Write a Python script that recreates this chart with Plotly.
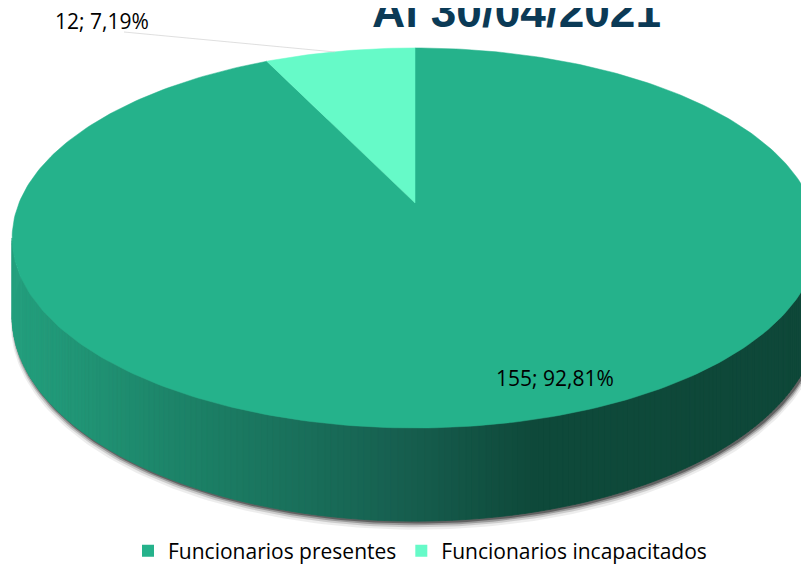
import numpy as np
import plotly.graph_objects as go

# ---------------- data ----------------
categories = ["Funcionarios presentes", "Funcionarios incapacitados"]
values = [155, 12]
title_text = "Al 30/04/2021"

# ---------------- style ----------------
slice_colors = ["#25b28b", "#66fac8"]
side_stops_x = [0, 200, 400, 530, 809]
side_stops_rgb = [(36, 163, 128), (28, 128, 102), (23, 96, 80), (15, 74, 59), (14, 72, 57)]

W, H = 809, 566
OFF = 8                     # page body margin compensation
CX, CY = 415.0, 203.0      # apex of the pie (page pixels)
RX = 396.0                  # horizontal radius
B = 183.6                   # vertical radius factor
C = 0.184                   # perspective factor
DEPTH = 76.0                # thickness of the pie


def proj(theta_deg, h=0.0, rx=RX):
    t = np.radians(np.asarray(theta_deg, dtype=float))
    X, Z = np.cos(t), np.sin(t)
    w = 1 + C * Z
    return CX + rx * X / w, CY - B * Z / w + h / w


def side_color(x):
    r = np.interp(x, side_stops_x, [c[0] for c in side_stops_rgb])
    g = np.interp(x, side_stops_x, [c[1] for c in side_stops_rgb])
    b = np.interp(x, side_stops_x, [c[2] for c in side_stops_rgb])
    return f"rgb({int(r)},{int(g)},{int(b)})"


total = sum(values)
ranges = []
start = 90.0
for v in values:
    sweep = 360.0 * v / total
    ranges.append((start - sweep, start))
    start -= sweep

fig = go.Figure()

# shadow under the pie
full = np.linspace(0, 360, 361)
for k, op in [(7, 0.07), (5, 0.14), (3.4, 0.24), (2.0, 0.36)]:
    sx, sy = proj(full, DEPTH + k, RX + k * 0.4)
    fig.add_trace(go.Scatter(x=sx + 1.5, y=sy, mode="lines", fill="toself",
                             line=dict(width=0), fillcolor=f"rgba(0,0,0,{op})",
                             hoverinfo="skip", showlegend=False))

# visible side (front) of each slice
vis_lo = 180 + np.degrees(np.arcsin(C))
vis_hi = 360 - np.degrees(np.arcsin(C))
for i, (a1, a0) in enumerate(ranges):
    for k in (-360, 0, 360):
        lo = max(a1, vis_lo + k)
        hi = min(a0, vis_hi + k)
        if hi <= lo:
            continue
        th = np.linspace(lo, hi, int((hi - lo) / 0.8) + 2)
        for j in range(len(th) - 1):
            t0, t1 = th[j], th[j + 1]
            x0, y0 = proj(t0)
            x1, y1 = proj(t1)
            x2, y2 = proj(t1, DEPTH)
            x3, y3 = proj(t0, DEPTH)
            col = side_color((x0 + x1) / 2)
            fig.add_trace(go.Scatter(x=[x0, x1, x2, x3, x0], y=[y0, y1, y2, y3, y0],
                                     mode="lines", fill="toself", fillcolor=col,
                                     line=dict(width=0.8, color=col),
                                     hoverinfo="skip", showlegend=False))

# top faces
for i, (a1, a0) in enumerate(ranges):
    th = np.linspace(a0, a1, int(abs(a0 - a1)) + 2)
    px, py = proj(th)
    fig.add_trace(go.Scatter(x=[CX] + list(px) + [CX], y=[CY] + list(py) + [CY],
                             mode="lines", fill="toself", fillcolor=slice_colors[i],
                             line=dict(width=0.5, color=slice_colors[i]),
                             hoverinfo="skip", showlegend=False))

# legend entries
for i, name in enumerate(categories):
    fig.add_trace(go.Scatter(x=[None], y=[None], mode="markers", name=name,
                             marker=dict(symbol="square", size=12, color=slice_colors[i])))


def fmt(v):
    pct = 100.0 * v / total
    return f"{v}; {pct:.2f}%".replace(".", ",")


annotations = [
    dict(x=102, y=21, xref="x", yref="y", text=fmt(values[1]), showarrow=False,
         font=dict(family="Open Sans", size=21, color="#000000")),
    dict(x=555, y=378, xref="x", yref="y", text=fmt(values[0]), showarrow=False,
         font=dict(family="Open Sans", size=21, color="#000000")),
    dict(x=516, y=11, xref="x", yref="y", text=f"<b>{title_text}</b>", showarrow=False,
         font=dict(family="Liberation Sans", size=46, color="#0b3a56")),
]

fig.update_layout(
    width=W, height=H,
    margin=dict(l=0, r=0, t=0, b=0),
    paper_bgcolor="white", plot_bgcolor="white",
    xaxis=dict(range=[OFF, W + OFF], visible=False, fixedrange=True),
    yaxis=dict(range=[H + OFF, OFF], visible=False, fixedrange=True),
    annotations=annotations,
    shapes=[dict(type="line", xref="x", yref="y", x0=124, y0=32, x1=335, y1=52,
                 line=dict(color="rgba(210,210,210,0.7)", width=1))],
    showlegend=True,
    legend=dict(orientation="h", x=(420 - OFF) / W, xanchor="center",
                y=1 - (551 - OFF) / H, yanchor="middle",
                font=dict(family="Open Sans", size=21, color="#000000"),
                bgcolor="rgba(0,0,0,0)", itemclick=False, itemdoubleclick=False),
    hovermode=False,
)

fig.write_html("out.html")
